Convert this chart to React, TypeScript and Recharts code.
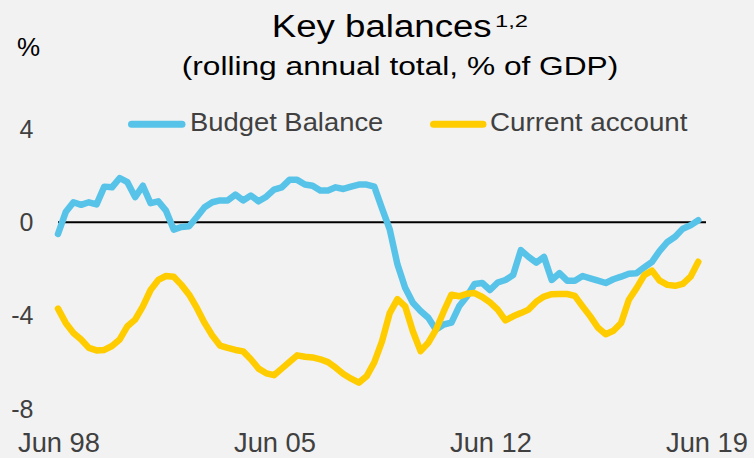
import { Line, LineChart, ReferenceLine, XAxis, YAxis } from "recharts"

const MONTHS = ["Jun", "Sep", "Dec", "Mar"]
// quarterly, Jun 98 .. Jun 19
const quarters = Array.from({ length: 85 }, (_, i) => {
  const yr = 1998 + Math.floor((i + 1) / 4)
  return `${MONTHS[i % 4]} ${String(yr % 100).padStart(2, "0")}`
})

const budgetBalance = [
  -0.5, 0.44, 0.86, 0.75, 0.86, 0.77, 1.53, 1.5, 1.9, 1.72, 1.08, 1.57, 0.82, 0.9,
  0.5, -0.31, -0.2, -0.17, 0.23, 0.65, 0.86, 0.94, 0.94, 1.19, 0.94, 1.15, 0.9, 1.1,
  1.4, 1.5, 1.82, 1.82, 1.62, 1.57, 1.36, 1.36, 1.5, 1.43, 1.53, 1.62, 1.62, 1.53,
  0.6, -0.3, -1.8, -2.8, -3.45, -3.8, -4.09, -4.6, -4.38, -4.3, -3.6, -3.18, -2.64, -2.6,
  -2.9, -2.58, -2.47, -2.26, -1.19, -1.48, -1.73, -1.48, -2.47, -2.18, -2.5, -2.5, -2.3, -2.4,
  -2.5, -2.6, -2.44, -2.33, -2.2, -2.18, -1.93, -1.69, -1.22, -0.84, -0.62, -0.27, -0.13, 0.09,
]

const currentAccount = [
  -3.7, -4.31, -4.74, -5.02, -5.38, -5.49, -5.47, -5.3, -5.02, -4.45, -4.17, -3.6, -2.9, -2.47,
  -2.3, -2.33, -2.68, -3.1, -3.67, -4.31, -4.85, -5.28, -5.38, -5.47, -5.53, -5.87, -6.27, -6.47,
  -6.55, -6.27, -5.99, -5.7, -5.76, -5.79, -5.87, -5.99, -6.23, -6.5, -6.7, -6.87, -6.6, -6.0,
  -5.1, -3.89, -3.29, -3.6, -4.67, -5.52, -5.16, -4.6, -3.82, -3.1, -3.17, -3.06, -3.03, -3.2,
  -3.43, -3.74, -4.2, -4.03, -3.89, -3.74, -3.4, -3.18, -3.08, -3.07, -3.07, -3.15, -3.6, -4.03,
  -4.52, -4.8, -4.65, -4.31, -3.32, -2.82, -2.26, -2.07, -2.5, -2.68, -2.72, -2.64, -2.33, -1.69,
]

const xTicks = ["Jun 98", "Jun 05", "Jun 12", "Jun 19"]
const yTicks = [4, 0, -4, -8]

const BLUE = "#58c3e8"
const YELLOW = "#ffcc00"
const TEXT = "#404040"

const data = quarters.map((q, i) => ({
  q,
  budget: budgetBalance[i] ?? null,
  current: currentAccount[i] ?? null,
}))

const XTick = ({ x, payload }: any) => (
  <text x={x + 1} y={451.5} textAnchor="middle" fill={TEXT} fontSize={28} textLength={82} lengthAdjust="spacingAndGlyphs">
    {payload.value}
  </text>
)

const YTick = ({ y, payload }: any) => (
  <text x={33.5} y={y + 8.8} textAnchor="end" fill={TEXT} fontSize={25}>
    {payload.value}
  </text>
)

export default function App() {
  return (
    <div
      style={{
        position: "absolute",
        left: 0,
        top: 0,
        width: 754,
        height: 458,
        background: "#f2f2f2",
        fontFamily: "'Liberation Sans', Arial, sans-serif",
        overflow: "hidden",
      }}
    >
      <LineChart
        width={754}
        height={458}
        data={data}
        margin={{ top: 129, right: 48, bottom: 9, left: 0 }}
        style={{ position: "absolute", left: 0, top: 0 }}
      >
        <XAxis
          dataKey="q"
          ticks={xTicks}
          interval={0}
          height={40}
          tickLine={false}
          axisLine={false}
          tick={<XTick />}
        />
        <YAxis
          width={58}
          domain={[-8, 4]}
          ticks={yTicks}
          tickLine={false}
          axisLine={false}
          tick={<YTick />}
        />
        <ReferenceLine y={0} stroke="#000" strokeWidth={2} />
        <Line
          dataKey="budget"
          stroke={BLUE}
          strokeWidth={6.5}
          dot={false}
          strokeLinejoin="round"
          strokeLinecap="round"
          isAnimationActive={false}
        />
        <Line
          dataKey="current"
          stroke={YELLOW}
          strokeWidth={6.5}
          dot={false}
          strokeLinejoin="round"
          strokeLinecap="round"
          isAnimationActive={false}
        />
      </LineChart>

      <svg
        width={754}
        height={150}
        style={{ position: "absolute", left: 0, top: 0, pointerEvents: "none" }}
        fontFamily="'Liberation Sans', Arial, sans-serif"
      >
        <text x={271.7} y={37.3} fontSize={31} fill="#000" textLength={220} lengthAdjust="spacingAndGlyphs">
          Key balances
        </text>
        <text x={495} y={27.3} fontSize={17} fill="#000" textLength={33} lengthAdjust="spacingAndGlyphs">
          1,2
        </text>
        <text x={181.7} y={75} fontSize={25.6} fill="#000" textLength={436.6} lengthAdjust="spacingAndGlyphs">
          (rolling annual total, % of GDP)
        </text>
        <text x={17} y={56} fontSize={26} fill="#000">
          %
        </text>

        <line x1={131.5} y1={124.3} x2={182} y2={124.3} stroke={BLUE} strokeWidth={7} strokeLinecap="round" />
        <text x={190} y={130.7} fontSize={25} fill={TEXT} textLength={193.3} lengthAdjust="spacingAndGlyphs">
          Budget Balance
        </text>
        <line x1={433.5} y1={124.3} x2={483} y2={124.3} stroke={YELLOW} strokeWidth={7} strokeLinecap="round" />
        <text x={490} y={130.7} fontSize={25} fill={TEXT} textLength={197.5} lengthAdjust="spacingAndGlyphs">
          Current account
        </text>
      </svg>
    </div>
  )
}
